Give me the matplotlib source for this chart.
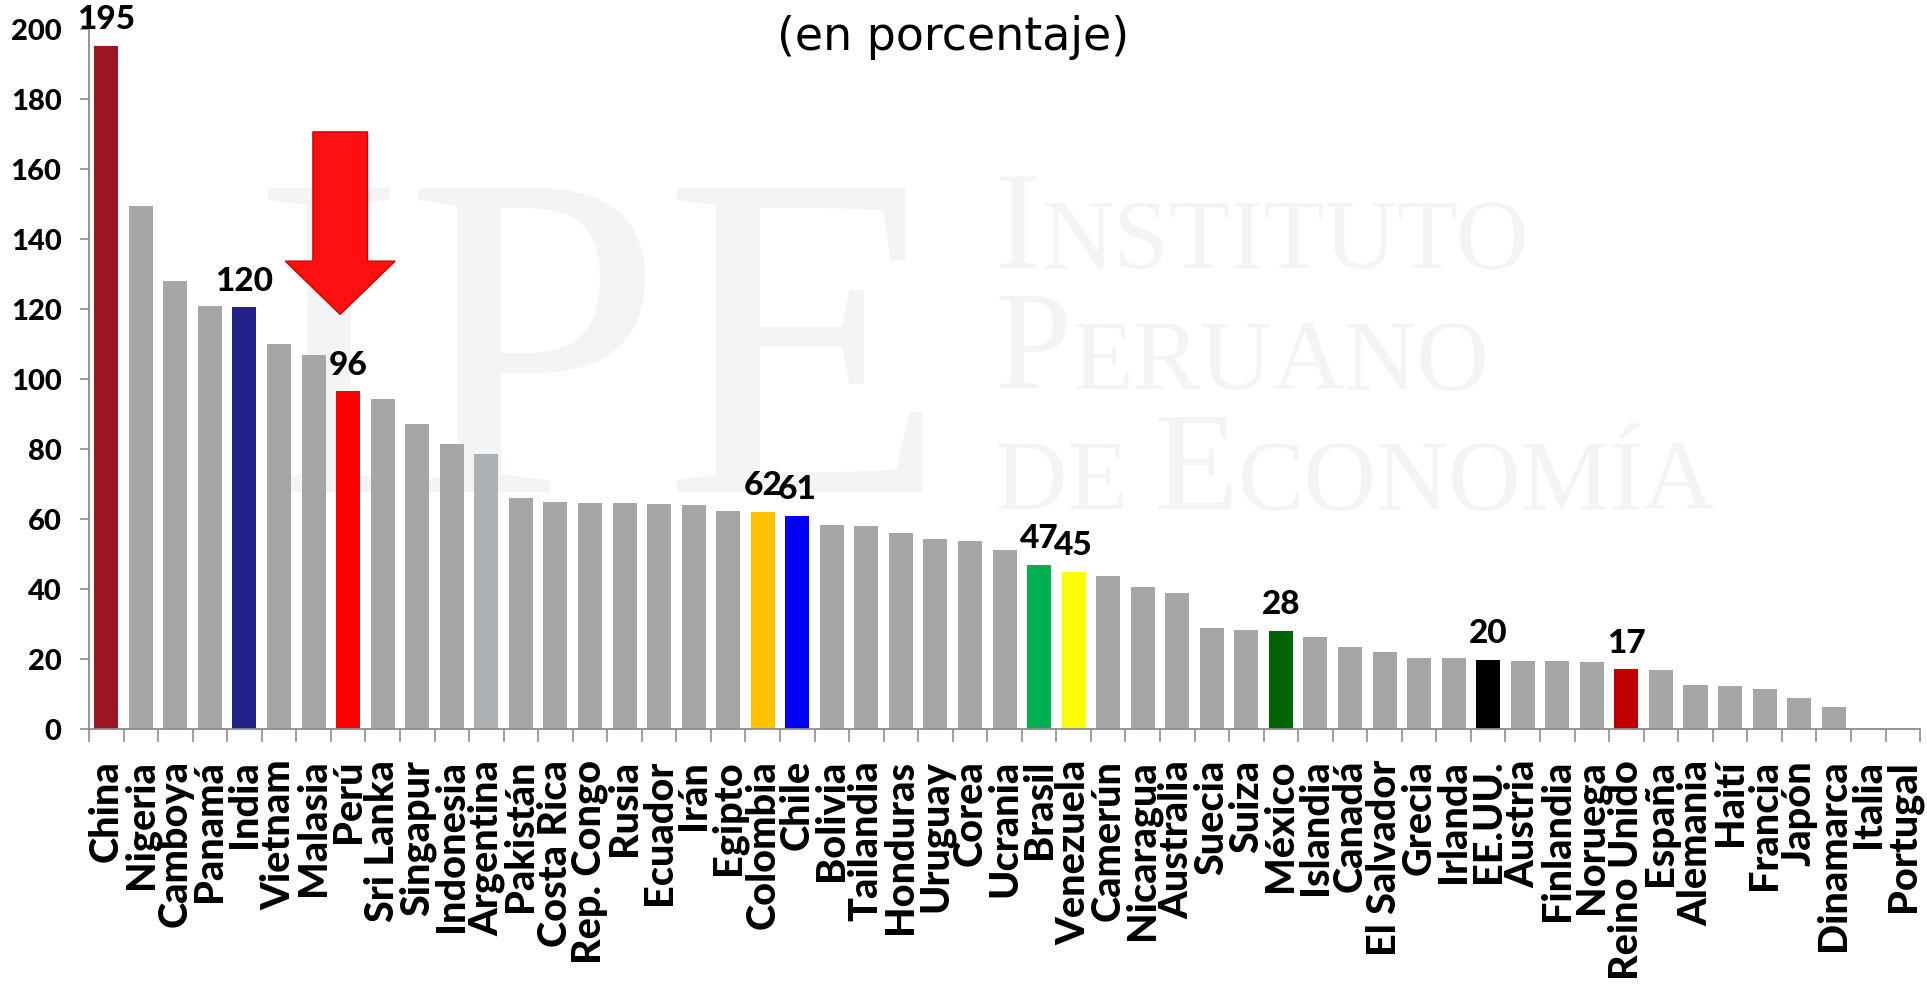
import matplotlib
matplotlib.use('Agg')
import matplotlib.pyplot as plt
import numpy as np
from matplotlib.patches import Polygon
from matplotlib.offsetbox import TextArea, HPacker, AnnotationBbox

# data
paises = ['China', 'Nigeria', 'Camboya', 'Panamá', 'India', 'Vietnam', 'Malasia', 'Perú',
          'Sri Lanka', 'Singapur', 'Indonesia', 'Argentina', 'Pakistán', 'Costa Rica',
          'Rep. Congo', 'Rusia', 'Ecuador', 'Irán', 'Egipto', 'Colombia', 'Chile', 'Bolivia',
          'Tailandia', 'Honduras', 'Uruguay', 'Corea', 'Ucrania', 'Brasil', 'Venezuela',
          'Camerún', 'Nicaragua', 'Australia', 'Suecia', 'Suiza', 'México', 'Islandia',
          'Canadá', 'El Salvador', 'Grecia', 'Irlanda', 'EE.UU.', 'Austria', 'Finlandia',
          'Noruega', 'Reino Unido', 'España', 'Alemania', 'Haití', 'Francia', 'Japón',
          'Dinamarca', 'Italia', 'Portugal']
valores = [195.1, 149.4, 127.9, 120.8, 120.4, 110.0, 106.9, 96.4,
           94.1, 87.1, 81.5, 78.6, 66.1, 64.8,
           64.6, 64.6, 64.3, 64.0, 62.3, 62.0, 60.9, 58.3,
           58.0, 56.0, 54.3, 53.7, 51.1, 46.9, 44.9,
           43.7, 40.6, 38.9, 28.9, 28.3, 28.0, 26.3,
           23.4, 22.0, 20.3, 20.3, 19.7, 19.4, 19.4,
           19.1, 17.1, 16.9, 12.6, 12.3, 11.4, 8.9,
           6.3, 0.0, 0.0]
destacados = {'China': '#9B1620', 'India': '#22228A', 'Perú': '#FF0000',
              'Colombia': '#FFC000', 'Chile': '#0000FF', 'Brasil': '#00B050',
              'Venezuela': '#FFFF00', 'México': '#006400', 'EE.UU.': '#000000',
              'Reino Unido': '#C00000'}

gris = '#A6A6A6'
colores = [destacados.get(p, gris) for p in paises]
colores[paises.index('Argentina')] = '#AEB1B4'

plt.rcParams['font.family'] = ['Lato', 'DejaVu Sans']

fig = plt.figure(figsize=(19.27, 9.87), dpi=100)
ax = fig.add_axes([0.0462, 0.2604, 0.9502, 0.7096])
ax.patch.set_alpha(0)

x = np.arange(len(paises))
bars = ax.bar(x, valores, width=0.695, color=colores, zorder=2)

# data labels for highlighted countries
for i, p in enumerate(paises):
    if p in destacados:
        ax.annotate(f"{valores[i]:.0f}", (x[i], valores[i]), xytext=(0, 9),
                    textcoords='offset points', ha='center', va='bottom',
                    fontsize=24, fontweight='black', color='black', zorder=5)

ax.set_xlim(-0.5, len(paises) - 0.5)
ax.set_ylim(0, 200)
ax.set_yticks(range(0, 201, 20))
ax.set_xticks(x)
ax.set_xticklabels(paises, rotation=90, fontsize=28.5, fontweight='black')
ax.set_xticks(np.arange(len(paises) + 1) - 0.5, minor=True)
ax.tick_params(axis='x', which='major', length=0, pad=21.5)
ax.tick_params(axis='x', which='minor', length=9.4, width=1.2, color='#8C8C8C')
ax.tick_params(axis='y', length=6.8, width=1.2, color='#8C8C8C', pad=13, labelsize=21)
for lab in ax.get_yticklabels():
    lab.set_fontweight('black')

for s in ['top', 'right']:
    ax.spines[s].set_visible(False)
for s in ['left', 'bottom']:
    ax.spines[s].set_color('#8C8C8C')
    ax.spines[s].set_linewidth(1.3)

# red arrow pointing at Peru
cx = paises.index('Perú') - 0.23
sw, hw = 0.79, 1.59
top, hb, tip = 170.5, 133.6, 118.4
flecha = Polygon([(cx - sw, top), (cx + sw, top), (cx + sw, hb), (cx + hw, hb),
                  (cx, tip), (cx - hw, hb), (cx - sw, hb)], closed=True,
                 facecolor='#FF1010', edgecolor='#D00000', linewidth=1, zorder=4)
ax.add_patch(flecha)

# watermark
wm = '#F4F4F4'
ax.text(0.1300, 0.5015, 'IPE', transform=fig.transFigure, fontsize=335,
        family='Liberation Serif', color=wm, ha='left', va='baseline', zorder=1)


def marca(partes, xy):
    cajas = [TextArea(t, textprops=dict(fontsize=s, color=wm, family='Liberation Serif'))
             for t, s in partes]
    pack = HPacker(children=cajas, align='baseline', pad=0, sep=0)
    ab = AnnotationBbox(pack, xy, xycoords='figure fraction', box_alignment=(0, 0),
                        frameon=False, zorder=1)
    ax.add_artist(ab)


marca([('I', 100), ('NSTITUTO', 72)], (0.5163, 0.698))
marca([('P', 100), ('ERUANO', 72)], (0.5163, 0.576))
marca([('DE ', 72), ('E', 100), ('CONOMÍA', 72)], (0.5163, 0.454))

fig.text(0.4945, 0.9615, '(en porcentaje)', ha='center', va='center',
         fontsize=33, family='DejaVu Sans', color='black')

plt.savefig('out.png', dpi=100)
